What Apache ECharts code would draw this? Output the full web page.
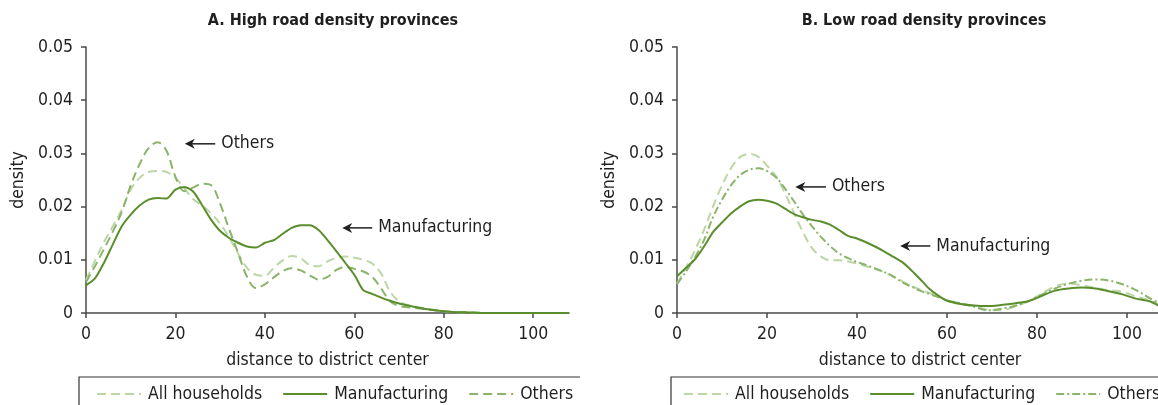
<!DOCTYPE html>
<html>
<head>
<meta charset="utf-8">
<script src="https://cdn.jsdelivr.net/npm/echarts@6/dist/echarts.min.js"></script>
<style>
  html, body { margin: 0; padding: 0; background: #fff; }
  #wrap { position: relative; width: 1158px; height: 405px; overflow: hidden; }
  .panel { position: absolute; top: 0; height: 405px; overflow: hidden; }
  #panelA { left: 0; width: 580px; }
  #panelB { left: 580px; width: 578px; }
  .chart { position: absolute; left: 0; top: 0; width: 660px; height: 405px; }
</style>
</head>
<body>
<div id="wrap">
  <div class="panel" id="panelA"><div class="chart" id="chartA"></div></div>
  <div class="panel" id="panelB"><div class="chart" id="chartB"></div></div>
</div>
<script>
// Kernel density of distance to the district center, by household group.

// Panel A: high road density provinces
const distA = [0,2,4,6,8,10,12,14,16,18,20,22,24,26,28,30,32,34,36,38,40,42,44,46,48,50,52,54,56,58,60,62,64,66,68,70,72,75,78,82,86,90,100,108];
const allA = [0.0062,0.0098,0.0133,0.0163,0.0194,0.0232,0.0254,0.0265,0.0267,0.0265,0.0254,0.0234,0.0214,0.0202,0.0187,0.0168,0.0142,0.0112,0.0085,0.0072,0.0070,0.0085,0.0099,0.0107,0.0103,0.0090,0.0088,0.0097,0.0104,0.0106,0.0104,0.0100,0.0093,0.0074,0.0040,0.0022,0.0015,0.0010,0.0006,0.0002,0.0001,0,0,0];
const manufA = [0.0052,0.0065,0.0094,0.0129,0.0163,0.0185,0.0202,0.0213,0.0216,0.0215,0.0232,0.0237,0.0228,0.0202,0.0175,0.0154,0.0141,0.0132,0.0125,0.0123,0.0132,0.0137,0.0149,0.0160,0.0165,0.0165,0.0156,0.0137,0.0116,0.0094,0.0072,0.0043,0.0036,0.0029,0.0023,0.0018,0.0014,0.0009,0.0005,0.0002,0.0001,0,0,0];
const othersA = [0.0058,0.0088,0.0120,0.0153,0.0190,0.0240,0.0280,0.0310,0.0321,0.0305,0.0256,0.0229,0.0236,0.0243,0.0240,0.0205,0.0158,0.0113,0.0068,0.0047,0.0054,0.0067,0.0079,0.0084,0.0080,0.0071,0.0063,0.0068,0.0081,0.0087,0.0083,0.0078,0.0068,0.0046,0.0022,0.0013,0.0011,0.0008,0.0005,0.0002,0.0001,0,0,0];

// Panel B: low road density provinces
const distB = [0,2,4,6,8,10,12,14,16,18,20,22,24,26,28,30,32,34,36,38,40,42,44,46,48,50,52,54,56,58,60,63,66,69,72,75,78,81,84,87,90,93,96,99,102,105,107];
const allB = [0.0055,0.0085,0.0118,0.0156,0.0200,0.0240,0.0272,0.0293,0.0299,0.0294,0.0277,0.0257,0.0225,0.0188,0.0152,0.0122,0.0106,0.0099,0.0099,0.0097,0.0093,0.0088,0.0083,0.0077,0.0069,0.0060,0.0051,0.0044,0.0038,0.0031,0.0024,0.0018,0.0013,0.0006,0.0005,0.0012,0.0022,0.0036,0.0050,0.0055,0.0052,0.0047,0.0043,0.0040,0.0031,0.0024,0.0016];
const manufB = [0.0069,0.0085,0.0101,0.0125,0.0152,0.0170,0.0187,0.0200,0.0210,0.0213,0.0211,0.0206,0.0196,0.0186,0.0180,0.0175,0.0172,0.0166,0.0156,0.0145,0.0140,0.0133,0.0125,0.0116,0.0106,0.0096,0.0081,0.0064,0.0046,0.0033,0.0023,0.0017,0.0014,0.0013,0.0015,0.0018,0.0022,0.0032,0.0042,0.0046,0.0048,0.0046,0.0041,0.0035,0.0027,0.0022,0.0014];
const othersB = [0.0054,0.0078,0.0105,0.0137,0.0180,0.0213,0.0240,0.0259,0.0269,0.0272,0.0267,0.0255,0.0234,0.0210,0.0185,0.0163,0.0143,0.0126,0.0112,0.0103,0.0096,0.0090,0.0084,0.0077,0.0069,0.0058,0.0050,0.0042,0.0036,0.0030,0.0024,0.0018,0.0012,0.0005,0.0008,0.0013,0.0022,0.0034,0.0046,0.0055,0.0061,0.0063,0.0061,0.0054,0.0043,0.0028,0.0019];

const xTicks = [0, 20, 40, 60, 80, 100];
const seriesNames = ['All households', 'Manufacturing', 'Others'];

// Callout labels in data units: [arrow tip x, arrow tail x, y, text]
const notesA = [[22.1, 28.9, 0.0318, 'Others'], [57.3, 64.0, 0.0160, 'Manufacturing']];
const notesB = [[26.3, 33.1, 0.0237, 'Others'], [49.6, 56.3, 0.0126, 'Manufacturing']];

const FONT = "'Liberation Sans Narrow', 'DejaVu Sans Condensed', 'Roboto', sans-serif";
const INK = '#1f1f1f';
const AXIS = '#4a4a4a';
const C_ALL = '#bcd6a6';
const C_MAN = '#5a8e2c';
const C_OTH = '#8bb46a';

function pairs(xs, ys) { return xs.map((x, i) => [x, ys[i]]); }

function buildOption(title, dist, all, man, oth, othersDash, layout) {
  return {
    animation: false,
    textStyle: { fontFamily: FONT },
    title: {
      text: title, left: layout.titleX, top: 8, textAlign: 'center',
      textStyle: { fontFamily: FONT, fontSize: 16, fontWeight: 'bold', color: INK }
    },
    grid: { left: layout.gridLeft, top: 47, width: layout.gridWidth, height: 266 },
    xAxis: {
      type: 'value', min: 0, max: 108,
      name: 'distance to district center', nameLocation: 'middle', nameGap: 38,
      nameTextStyle: { fontFamily: FONT, fontSize: 17.5, color: INK },
      axisLine: { show: true, lineStyle: { color: AXIS, width: 1.5 } },
      axisTick: { show: true, length: 5, customValues: xTicks, lineStyle: { color: AXIS, width: 1.5 } },
      axisLabel: { customValues: xTicks, fontFamily: FONT, fontSize: 17.5, color: INK, margin: 12 },
      splitLine: { show: false }
    },
    yAxis: {
      type: 'value', min: 0, max: 0.05, interval: 0.01,
      name: 'density', nameLocation: 'middle', nameGap: 58,
      nameTextStyle: { fontFamily: FONT, fontSize: 17.5, color: INK },
      axisLine: { show: true, lineStyle: { color: AXIS, width: 1.5 } },
      axisTick: { show: true, length: 5, lineStyle: { color: AXIS, width: 1.5 } },
      axisLabel: { fontFamily: FONT, fontSize: 17.5, color: INK, margin: 13 },
      splitLine: { show: false }
    },
    legend: {
      data: seriesNames, left: layout.legendLeft, top: 377,
      padding: [8, 14, 20, layout.legendPad], itemGap: 20, itemWidth: 44, itemHeight: 12,
      borderColor: '#333', borderWidth: 1.2,
      itemStyle: { opacity: 0 },
      textStyle: { fontFamily: FONT, fontSize: 17.5, color: INK, padding: [0, 0, 0, 2] }
    },
    series: [
      { name: seriesNames[0], type: 'line', data: pairs(dist, all), smooth: 0.35, symbol: 'none',
        lineStyle: { color: C_ALL, width: 2, type: [9, 5] }, itemStyle: { color: C_ALL }, z: 2 },
      { name: seriesNames[1], type: 'line', data: pairs(dist, man), smooth: 0.25, symbol: 'none',
        lineStyle: { color: C_MAN, width: 2 }, itemStyle: { color: C_MAN }, z: 4 },
      { name: seriesNames[2], type: 'line', data: pairs(dist, oth), smooth: 0.35, symbol: 'none',
        lineStyle: { color: C_OTH, width: 2, type: othersDash }, itemStyle: { color: C_OTH }, z: 3 }
    ]
  };
}

// Arrow callouts positioned through the grid's own coordinate system
function addNotes(chart, notes) {
  const elements = [];
  notes.forEach(([tipX, tailX, y, text]) => {
    const tip = chart.convertToPixel({ gridIndex: 0 }, [tipX, y]);
    const tail = chart.convertToPixel({ gridIndex: 0 }, [tailX, y]);
    elements.push({
      type: 'line', silent: true,
      shape: { x1: tip[0] + 6, y1: tip[1], x2: tail[0], y2: tail[1] },
      style: { stroke: INK, lineWidth: 1.5 }
    });
    elements.push({
      type: 'polygon', silent: true,
      shape: { points: [[tip[0], tip[1]], [tip[0] + 10, tip[1] - 5], [tip[0] + 7, tip[1]], [tip[0] + 10, tip[1] + 5]] },
      style: { fill: INK }
    });
    elements.push({
      type: 'text', silent: true, x: tail[0] + 6, y: tail[1],
      style: { text: text, font: '17.5px ' + FONT, fill: INK, verticalAlign: 'middle' }
    });
  });
  chart.setOption({ graphic: elements });
}

const chartA = echarts.init(document.getElementById('chartA'), null, { renderer: 'canvas' });
chartA.setOption(buildOption('A. High road density provinces', distA, allA, manufA, othersA, [9, 5],
  { titleX: 328, gridLeft: 86, gridWidth: 483, legendLeft: 79, legendPad: 17 }));
addNotes(chartA, notesA);

const chartB = echarts.init(document.getElementById('chartB'), null, { renderer: 'canvas' });
chartB.setOption(buildOption('B. Low road density provinces', distB, allB, manufB, othersB, [8, 3, 2, 3],
  { titleX: 339, gridLeft: 97, gridWidth: 486, legendLeft: 91, legendPad: 12 }));
addNotes(chartB, notesB);
</script>
</body>
</html>
